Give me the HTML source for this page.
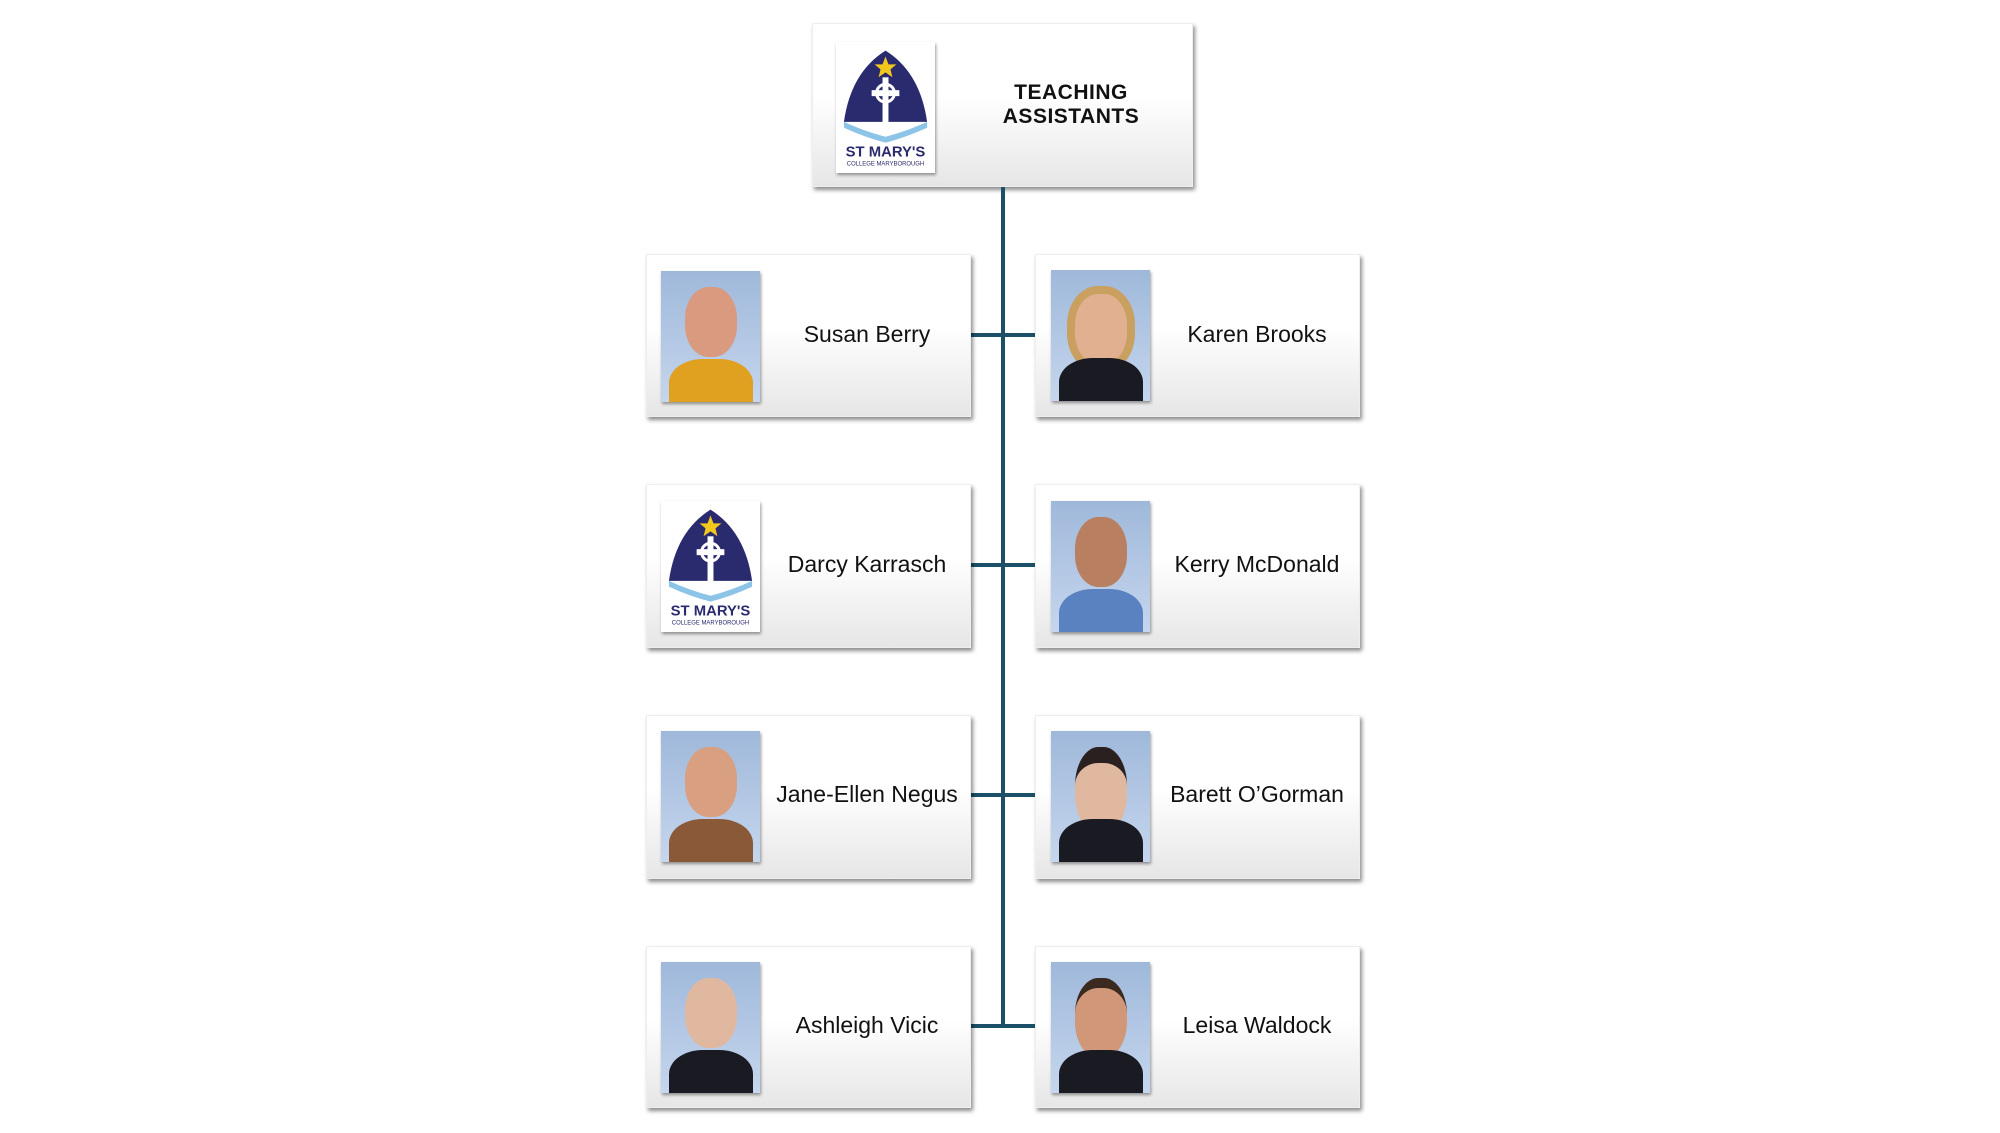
<!DOCTYPE html>
<html><head><meta charset="utf-8"><style>
body{margin:0;width:2000px;height:1133px;background:#fff;position:relative;overflow:hidden;font-family:"Liberation Sans",Arial,sans-serif}
.box{position:absolute;background:linear-gradient(#fff 0%,#fff 45%,#e6e6e6 100%);box-shadow:2px 3px 4px rgba(0,0,0,.45);border:1px solid #eee;box-sizing:border-box}
.name{position:absolute;font-size:23px;color:#111;text-align:center;white-space:nowrap;transform:translateX(-50%)}
.ph{position:absolute;width:99px;height:131px;background:linear-gradient(#9fb8da,#c5d6ee);overflow:hidden;box-shadow:1px 2px 3px rgba(0,0,0,.4)}
.ph .h{position:absolute;left:24px;top:16px;width:52px;height:70px;border-radius:45%;background:#d8a88a}
.ph .b{position:absolute;left:8px;top:88px;width:84px;height:60px;border-radius:40% 40% 0 0;background:#1a1a22}
.v{position:absolute;background:#1c5068}
.logo{position:absolute;width:99px;height:131px;background:#fff;box-shadow:1px 2px 3px rgba(0,0,0,.4)}
</style></head><body>
<div class="box" style="left:812px;top:23px;width:381px;height:164px"></div>
<div class="logo" style="left:836px;top:42px">
<svg width="99" height="131" viewBox="0 0 100 131"><path d="M50 8 Q85 30 92 80 L8 80 Q15 30 50 8Z" fill="#2a2a6e"/><path d="M8 80 Q30 90 50 95 Q70 90 92 80 L92 86 Q70 96 50 101 Q30 96 8 86Z" fill="#8cc4e8"/><polygon points="50,14 53,22 61,22 55,27 57,35 50,30 43,35 45,27 39,22 47,22" fill="#f2c81e"/><rect x="47" y="35" width="6" height="52" fill="#fff"/><rect x="36" y="48" width="28" height="6" fill="#fff"/><circle cx="50" cy="51" r="9" fill="none" stroke="#fff" stroke-width="3"/><text x="50" y="115" font-size="15" font-weight="bold" fill="#2a2a6e" text-anchor="middle" font-family="Liberation Sans">ST MARY'S</text><text x="50" y="124" font-size="6" fill="#2a2a6e" text-anchor="middle" font-family="Liberation Sans">COLLEGE MARYBOROUGH</text></svg></div>
<div style="position:absolute;left:1071px;top:81px;width:0;text-align:center"><div style="position:absolute;transform:translateX(-50%);font-weight:bold;font-size:21px;line-height:24px;letter-spacing:0.5px;white-space:nowrap;color:#111">TEACHING<br>ASSISTANTS</div></div>

<div class="v" style="left:1001px;top:187px;width:4px;height:841px"></div>
<div class="v" style="left:971px;top:333px;width:64px;height:4px"></div>
<div class="v" style="left:971px;top:563px;width:64px;height:4px"></div>
<div class="v" style="left:971px;top:793px;width:64px;height:4px"></div>
<div class="v" style="left:971px;top:1024px;width:64px;height:4px"></div>

<div class="box" style="left:646px;top:254px;width:325px;height:163px"></div>
<div class="ph" style="left:661px;top:271px"><div class="h" style="background:#d99a80"></div><div class="b" style="background:#e0a020"></div></div>
<div class="name" style="left:867px;top:321px">Susan Berry</div>
<div class="box" style="left:1035px;top:254px;width:325px;height:163px"></div>
<div class="ph" style="left:1051px;top:270px"><div class="h" style="background:#e0b090;border:8px solid #c9a060;left:16px"></div><div class="b"></div></div>
<div class="name" style="left:1257px;top:321px">Karen Brooks</div>

<div class="box" style="left:646px;top:484px;width:325px;height:164px"></div>
<div class="logo" style="left:661px;top:501px">
<svg width="99" height="131" viewBox="0 0 100 131"><path d="M50 8 Q85 30 92 80 L8 80 Q15 30 50 8Z" fill="#2a2a6e"/><path d="M8 80 Q30 90 50 95 Q70 90 92 80 L92 86 Q70 96 50 101 Q30 96 8 86Z" fill="#8cc4e8"/><polygon points="50,14 53,22 61,22 55,27 57,35 50,30 43,35 45,27 39,22 47,22" fill="#f2c81e"/><rect x="47" y="35" width="6" height="52" fill="#fff"/><rect x="36" y="48" width="28" height="6" fill="#fff"/><circle cx="50" cy="51" r="9" fill="none" stroke="#fff" stroke-width="3"/><text x="50" y="115" font-size="15" font-weight="bold" fill="#2a2a6e" text-anchor="middle" font-family="Liberation Sans">ST MARY'S</text><text x="50" y="124" font-size="6" fill="#2a2a6e" text-anchor="middle" font-family="Liberation Sans">COLLEGE MARYBOROUGH</text></svg></div>
<div class="name" style="left:867px;top:551px">Darcy Karrasch</div>
<div class="box" style="left:1035px;top:484px;width:325px;height:164px"></div>
<div class="ph" style="left:1051px;top:501px"><div class="h" style="background:#b88060"></div><div class="b" style="background:#5a82c0"></div></div>
<div class="name" style="left:1257px;top:551px">Kerry McDonald</div>

<div class="box" style="left:646px;top:715px;width:325px;height:164px"></div>
<div class="ph" style="left:661px;top:731px"><div class="h" style="background:#d8a080"></div><div class="b" style="background:#8a5a38"></div></div>
<div class="name" style="left:867px;top:781px">Jane-Ellen Negus</div>
<div class="box" style="left:1035px;top:715px;width:325px;height:164px"></div>
<div class="ph" style="left:1051px;top:731px"><div class="h" style="background:#e0b8a0;border-top:16px solid #2a2020"></div><div class="b"></div></div>
<div class="name" style="left:1257px;top:781px">Barett O’Gorman</div>

<div class="box" style="left:646px;top:946px;width:325px;height:162px"></div>
<div class="ph" style="left:661px;top:962px"><div class="h" style="background:#e0b8a0"></div><div class="b"></div></div>
<div class="name" style="left:867px;top:1012px">Ashleigh Vicic</div>
<div class="box" style="left:1035px;top:946px;width:325px;height:162px"></div>
<div class="ph" style="left:1051px;top:962px"><div class="h" style="background:#d09878;border-top:10px solid #3a2a20"></div><div class="b"></div></div>
<div class="name" style="left:1257px;top:1012px">Leisa Waldock</div>
</body></html>
